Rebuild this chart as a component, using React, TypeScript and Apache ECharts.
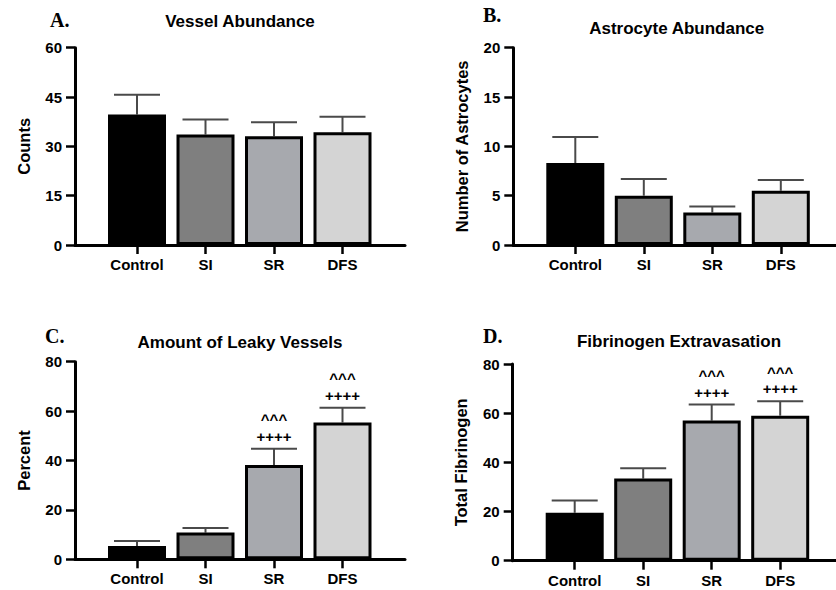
import React, { useEffect, useRef } from "react";
import * as echarts from "echarts";

const categories = ["Control", "SI", "SR", "DFS"];
const barColors = ["#000000", "#7f7f7f", "#a7a9ae", "#d4d4d4"];

const vesselMean = [39.7, 33.6, 33.1, 34.3];
const vesselSem = [6.0, 4.6, 4.2, 4.7];

const astroMean = [8.3, 5.0, 3.3, 5.5];
const astroSem = [2.65, 1.7, 0.6, 1.1];

const leakyMean = [5.4, 10.8, 38.2, 55.4];
const leakySem = [2.0, 1.9, 6.6, 6.0];
const leakySigPlus = ["", "", "++++", "++++"];
const leakySigCaret = ["", "", "^^^", "^^^"];

const fibMean = [19.5, 33.4, 57.0, 59.0];
const fibSem = [5.0, 4.2, 6.5, 5.8];
const fibSigPlus = ["", "", "++++", "++++"];
const fibSigCaret = ["", "", "^^^", "^^^"];

const panels = [
  { letter: "A.", title: "Vessel Abundance", yName: "Counts", max: 60, interval: 15, mean: vesselMean, sem: vesselSem, plus: null, caret: null,
    axisX: 75, top: 47.7, y0: 245, titleX: 240, titleY: 21.7, letterX: 50, letterY: 19.5 },
  { letter: "B.", title: "Astrocyte Abundance", yName: "Number of Astrocytes", max: 20, interval: 5, mean: astroMean, sem: astroSem, plus: null, caret: null,
    axisX: 513.3, top: 47.7, y0: 245, titleX: 676.7, titleY: 28, letterX: 483, letterY: 15 },
  { letter: "C.", title: "Amount of Leaky Vessels", yName: "Percent", max: 80, interval: 20, mean: leakyMean, sem: leakySem, plus: leakySigPlus, caret: leakySigCaret,
    axisX: 75, top: 361.7, y0: 559.3, titleX: 240, titleY: 342, letterX: 45, letterY: 336 },
  { letter: "D.", title: "Fibrinogen Extravasation", yName: "Total Fibrinogen", max: 80, interval: 20, mean: fibMean, sem: fibSem, plus: fibSigPlus, caret: fibSigCaret,
    axisX: 512.7, top: 364, y0: 560.7, titleX: 679, titleY: 341.7, letterX: 483, letterY: 336 },
];

const FONT = "Liberation Sans, Arial, sans-serif";

export default function App() {
  const ref = useRef<HTMLDivElement>(null);
  useEffect(() => {
    if (!ref.current) return;
    const chart = echarts.init(ref.current, undefined, { renderer: "svg" });
    const grid: any[] = [];
    const xAxis: any[] = [];
    const yAxis: any[] = [];
    const series: any[] = [];
    const graphic: any[] = [];

    panels.forEach((p, pi) => {
      const outer = pi * 2;
      const inner = pi * 2 + 1;
      const height = p.y0 - p.top;
      grid.push({ left: p.axisX, top: p.top, width: 330, height });
      grid.push({ left: p.axisX + 27.75, top: p.top, width: 274, height });

      xAxis.push({
        type: "value", gridIndex: outer, min: 0, max: 1,
        axisLine: { show: true, onZero: false, lineStyle: { color: "#000", width: 3 } },
        axisTick: { show: false }, axisLabel: { show: false }, splitLine: { show: false },
      });
      xAxis.push({
        type: "category", gridIndex: inner, data: categories,
        axisLine: { show: false },
        axisTick: { show: true, alignWithLabel: true, interval: 0, length: 9, lineStyle: { color: "#000", width: 2.5 } },
        axisLabel: { color: "#000", fontWeight: "bold", fontSize: 15, fontFamily: FONT, margin: 12, interval: 0, hideOverlap: false },
        splitLine: { show: false },
      });
      yAxis.push({
        type: "value", gridIndex: outer, min: 0, max: p.max, interval: p.interval,
        axisLine: { show: true, lineStyle: { color: "#000", width: 3 } },
        axisTick: { show: true, length: 9, lineStyle: { color: "#000", width: 2.5 } },
        axisLabel: { color: "#000", fontWeight: "bold", fontSize: 15, fontFamily: FONT, margin: 13 },
        splitLine: { show: false },
        name: p.yName, nameLocation: "middle", nameGap: 43, nameRotate: 90,
        nameTextStyle: { color: "#000", fontWeight: "bold", fontSize: 16.5, fontFamily: FONT },
      });
      yAxis.push({ type: "value", gridIndex: inner, min: 0, max: p.max, show: false });

      series.push({
        type: "custom", xAxisIndex: inner, yAxisIndex: inner, z: 1,
        data: p.mean.map((m, i) => [i, m, m + p.sem[i]]),
        renderItem: (params: any, api: any) => {
          const i = api.value(0);
          const base = api.coord([i, api.value(1)]);
          const top = api.coord([i, api.value(2)]);
          const children: any[] = [
            { type: "line", shape: { x1: base[0], y1: base[1], x2: top[0], y2: top[1] }, style: { stroke: "#4a4a4a", lineWidth: 2 } },
            { type: "line", shape: { x1: top[0] - 23, y1: top[1], x2: top[0] + 23, y2: top[1] }, style: { stroke: "#4a4a4a", lineWidth: 2 } },
          ];
          const idx = params.dataIndex;
          if (p.plus && p.plus[idx]) {
            children.push({ type: "text", style: { text: p.plus[idx], x: top[0], y: top[1] - 12.5, align: "center", verticalAlign: "middle", font: `bold 15px ${FONT}`, fill: "#000" } });
          }
          if (p.caret && p.caret[idx]) {
            children.push({ type: "text", style: { text: p.caret[idx], x: top[0], y: top[1] - 29, align: "center", verticalAlign: "middle", font: `bold 15px ${FONT}`, fill: "#000" } });
          }
          return { type: "group", children };
        },
      });
      series.push({
        type: "bar", xAxisIndex: inner, yAxisIndex: inner, z: 2, barWidth: 58,
        data: p.mean.map((m, i) => ({ value: m, itemStyle: { color: barColors[i] } })),
        itemStyle: { borderColor: "#000", borderWidth: 3 },
      });

      graphic.push({ type: "text", x: p.titleX, y: p.titleY, style: { text: p.title, align: "center", verticalAlign: "middle", font: `bold 17px ${FONT}`, fill: "#000" } });
      graphic.push({ type: "text", x: p.letterX, y: p.letterY, style: { text: p.letter, align: "left", verticalAlign: "middle", font: `bold 20px "Liberation Serif", "Times New Roman", serif`, fill: "#000" } });
    });

    chart.setOption({
      animation: false,
      backgroundColor: "#fff",
      grid, xAxis, yAxis, series, graphic,
    });
    return () => chart.dispose();
  }, []);
  return <div ref={ref} style={{ position: "fixed", left: 0, top: 0, width: 836, height: 590 }} />;
}
